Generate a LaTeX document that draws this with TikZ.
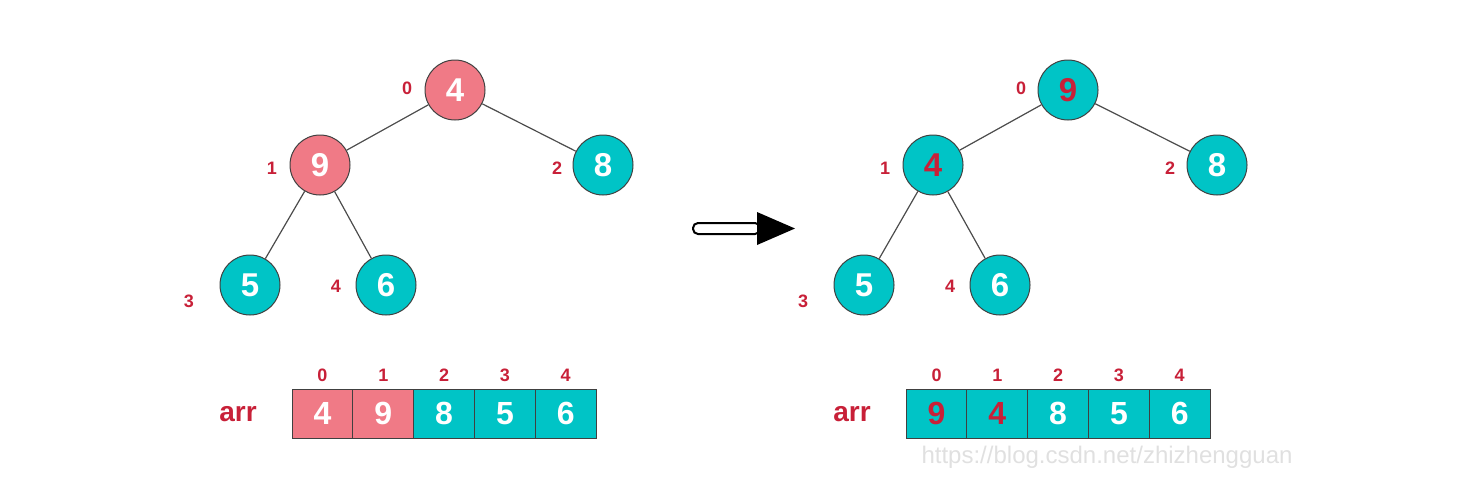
\documentclass[tikz,border=0pt]{standalone}
\usepackage{fontspec}
\setmainfont{Liberation Sans}
\usetikzlibrary{positioning}

\definecolor{heappink}{RGB}{240,122,134}
\definecolor{heapteal}{RGB}{0,196,198}
\definecolor{idxred}{RGB}{200,32,56}

\tikzset{
    heapnode/.style={circle, draw=black!75, line width=1pt, minimum size=60pt,
        inner sep=0pt, font=\fontsize{33}{33}\selectfont\bfseries},
    cell/.style={rectangle, draw=black!75, line width=1pt, minimum width=61pt,
        minimum height=49pt, inner sep=0pt, font=\fontsize{32}{32}\selectfont\bfseries},
    idx/.style={inner sep=0pt, text=idxred, font=\fontsize{18}{18}\selectfont\bfseries},
    edge/.style={draw=black!70, line width=1.2pt},
}

\begin{document}
\begin{tikzpicture}[x=1pt,y=-1pt]
    \useasboundingbox (0,0) rectangle (1461,477);

    % left heap: before the swap
    \begin{scope}
      \node [heapnode, fill=heappink, text=white] (la) at (455,90)  {4};
      \node [heapnode, fill=heappink, text=white] (lb) at (320,165) {9};
      \node [heapnode, fill=heapteal, text=white] (lc) at (603,165) {8};
      \node [heapnode, fill=heapteal, text=white] (ld) at (250,285) {5};
      \node [heapnode, fill=heapteal, text=white] (le) at (386,285) {6};
      \draw [edge] (la) -- (lb);
      \draw [edge] (la) -- (lc);
      \draw [edge] (lb) -- (ld);
      \draw [edge] (lb) -- (le);
      \node [idx] (lia) at (407,88)  {0};
      \node [idx] (lib) at (272,168) {1};
      \node [idx] (lic) at (557,168) {2};
      \node [idx] (lid) at (189,301) {3};
      \node [idx] (lie) at (336,286) {4};

      \node [font=\fontsize{28}{28}\selectfont\bfseries, text=idxred] (larr) at (238,414) {arr};
      \foreach \v/\c/\t [count=\i from 0] in {4/heappink/white, 9/heappink/white,
          8/heapteal/white, 5/heapteal/white, 6/heapteal/white}{
        \node [cell, fill=\c, text=\t] (lk\i) at ({322.5+60.8*\i},413.5) {\v};
        \node [idx, above=7pt of lk\i] (lj\i) {\i};
      }
    \end{scope}

    % arrow between the two states
    \draw [line width=2pt, fill=white, rounded corners=5pt] (693,223) rectangle (760,234);
    \fill (757,212) -- (795,228.5) -- (757,245) -- cycle;

    % right heap: after the swap
    \begin{scope}
      \node [heapnode, fill=heapteal, text=idxred] (ra) at (1068,90)  {9};
      \node [heapnode, fill=heapteal, text=idxred] (rb) at (933,165)  {4};
      \node [heapnode, fill=heapteal, text=white]  (rc) at (1217,165) {8};
      \node [heapnode, fill=heapteal, text=white]  (rd) at (864,285)  {5};
      \node [heapnode, fill=heapteal, text=white]  (re) at (1000,285) {6};
      \draw [edge] (ra) -- (rb);
      \draw [edge] (ra) -- (rc);
      \draw [edge] (rb) -- (rd);
      \draw [edge] (rb) -- (re);
      \node [idx] (ria) at (1021,88)  {0};
      \node [idx] (rib) at (885,168)  {1};
      \node [idx] (ric) at (1170,168) {2};
      \node [idx] (rid) at (803,301)  {3};
      \node [idx] (rie) at (950,286)  {4};

      \node [font=\fontsize{28}{28}\selectfont\bfseries, text=idxred] (rarr) at (852,414) {arr};
      \foreach \v/\t [count=\i from 0] in {9/idxred, 4/idxred, 8/white, 5/white, 6/white}{
        \node [cell, fill=heapteal, text=\t] (rk\i) at ({936.5+60.8*\i},413.5) {\v};
        \node [idx, above=7pt of rk\i] (rj\i) {\i};
      }
    \end{scope}

    \node [anchor=west, text=black!12, font=\fontsize{24}{24}\selectfont] (mark) at (918,457)
      {https://blog.csdn.net/zhizhengguan};
\end{tikzpicture}
\end{document}
